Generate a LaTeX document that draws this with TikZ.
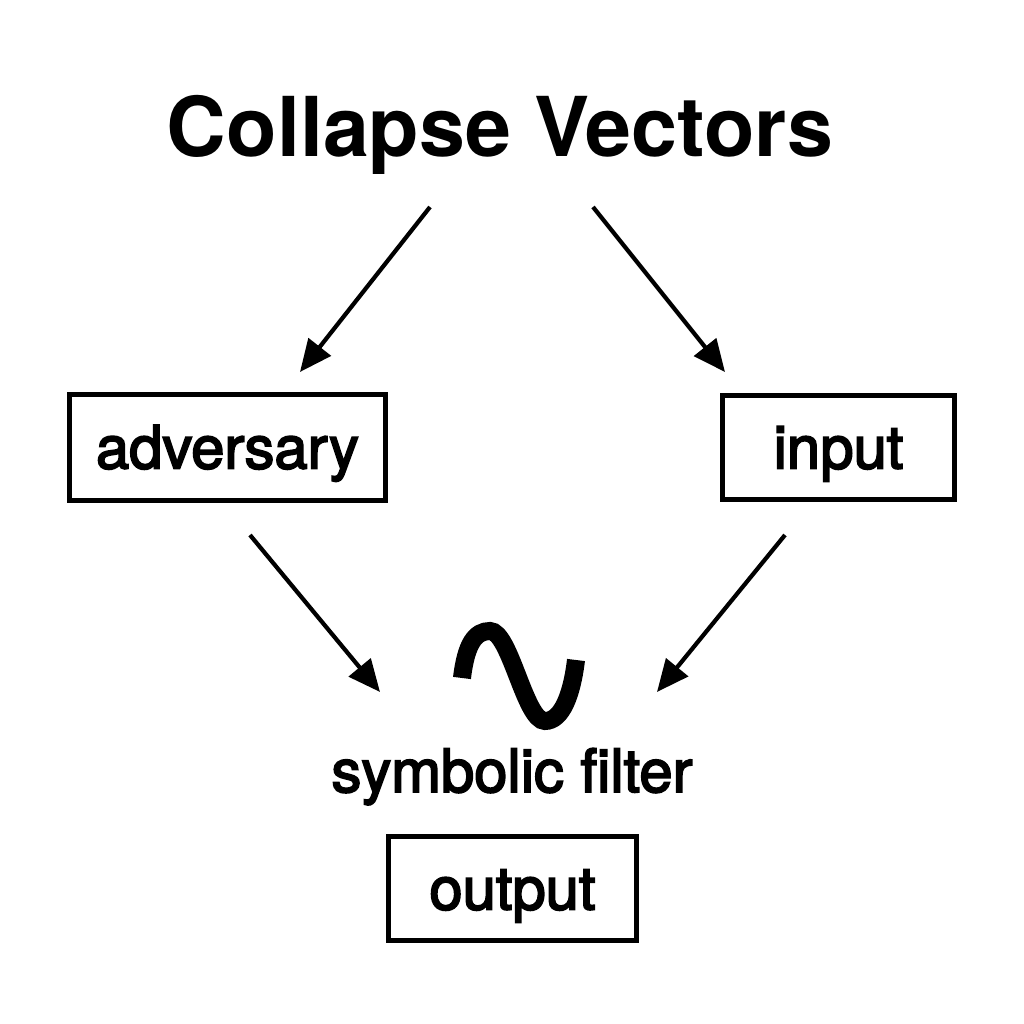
\documentclass[tikz,border=0pt]{standalone}
\usepackage{fontspec}
\setmainfont{TeX Gyre Heros}
\newfontfamily\labelfont[FakeBold=3]{TeX Gyre Heros}
\usetikzlibrary{arrows.meta,positioning}

\begin{document}
\begin{tikzpicture}[
    labelbox/.style={draw, line width=1.4pt, font=\labelfont\fontsize{17pt}{20pt}\selectfont,
                     text height=0.42cm, text depth=0cm, inner sep=0pt},
    arr/.style={line width=1.2pt, -{Triangle[length=0.32cm,width=0.28cm]}}
  ]
  \useasboundingbox (0,0) rectangle (10.24,10.24);

  \node[font=\fontsize{23.5pt}{28pt}\selectfont\bfseries] (title) at (5.0, 8.89)
       {Collapse Vectors};

  \node[labelbox, minimum width=3.16cm, minimum height=1.06cm] (adv) at (2.275, 5.765)
       {adversary};
  \node[labelbox, minimum width=2.32cm, minimum height=1.04cm] (inp) at (8.385, 5.765)
       {input};

  \node[font=\labelfont\fontsize{17pt}{20pt}\selectfont, anchor=base] (filter) at (5.12, 2.32)
       {symbolic filter};

  \node[labelbox, minimum width=2.48cm, minimum height=1.04cm] (out) at (5.125, 1.355)
       {output};

  % arrow ends
  \coordinate (t1) at (4.30, 8.17);
  \coordinate (t2) at (5.93, 8.17);
  \coordinate (a1) at (3.00, 6.52);
  \coordinate (i1) at (7.25, 6.52);
  \coordinate (a2) at (2.50, 4.89);
  \coordinate (i2) at (7.85, 4.89);
  \coordinate (f1) at (3.80, 3.32);
  \coordinate (f2) at (6.57, 3.32);

  \draw[arr] (t1) -- (a1);
  \draw[arr] (t2) -- (i1);
  \draw[arr] (a2) -- (f1);
  \draw[arr] (i2) -- (f2);

  % tilde symbol
  \draw[line width=0.18cm, line cap=butt]
    (4.62, 3.46) .. controls (4.66, 3.80) and (4.75, 3.93) .. (4.90, 3.93)
                 .. controls (5.10, 3.93) and (5.25, 3.03) .. (5.45, 3.03)
                 .. controls (5.62, 3.03) and (5.72, 3.30) .. (5.76, 3.64);
\end{tikzpicture}
\end{document}
